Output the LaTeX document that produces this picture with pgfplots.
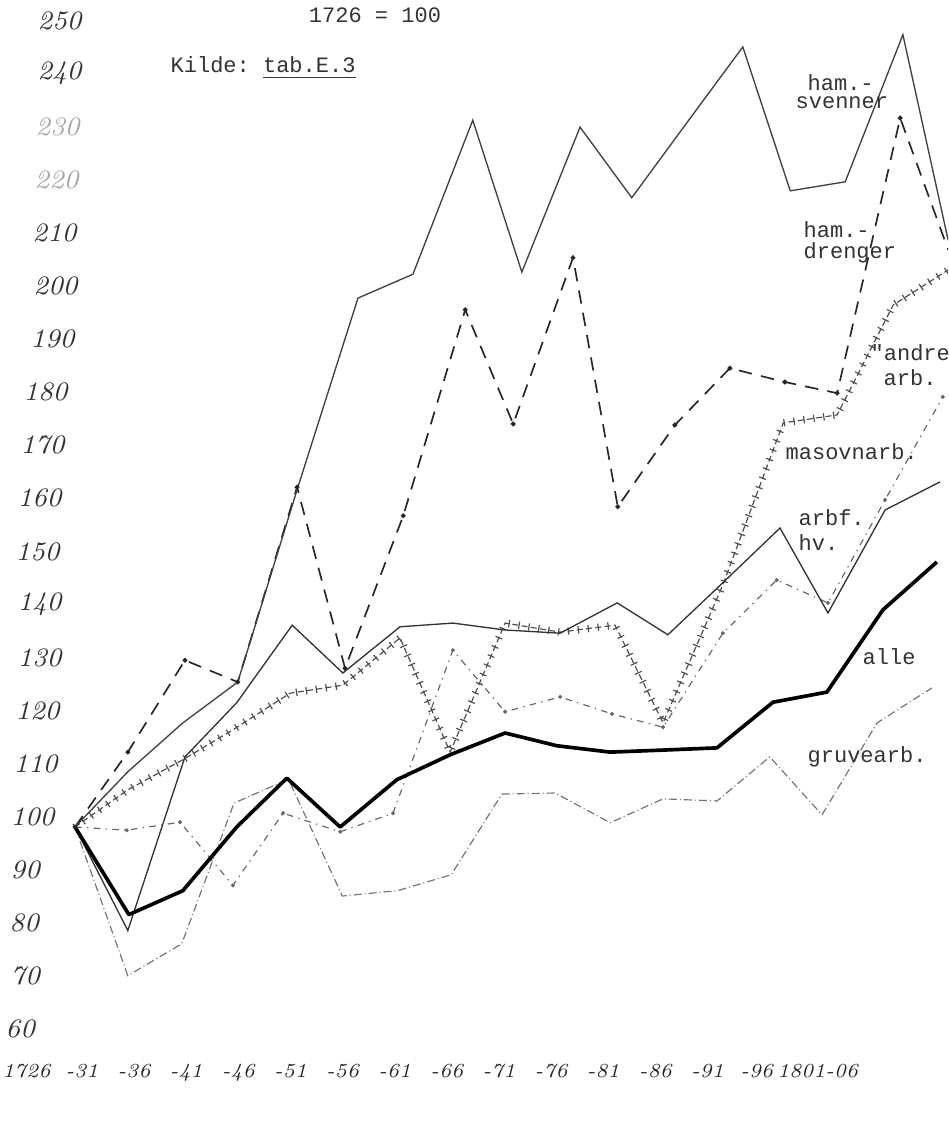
\documentclass[border=0pt]{standalone}
\usepackage{fontspec}
\setmonofont{Liberation Mono}
\usepackage{pgfplots}
\pgfplotsset{compat=1.18}
\usetikzlibrary{decorations.pathreplacing}

\newcommand{\tw}{\fontsize{6.6}{7.5}\selectfont\ttfamily\color{black!80}}

\pgfplotsset{
  alle/.style={black, line width=1.1pt, line join=round},
  svenner/.style={black!75, line width=0.4pt},
  drenger/.style={black!85, line width=0.5pt, dash pattern=on 4pt off 2.8pt,
    mark=*, mark size=0.45pt, mark options={solid}},
  andre/.style={black!60, line width=0.35pt, dash pattern=on 2pt off 1.6pt on 0.4pt off 1.6pt,
    mark=*, mark size=0.4pt, mark options={solid}},
  masovn/.style={black!70, line width=0.35pt, dash pattern=on 1.8pt off 1pt,
    postaction={decorate, draw, solid, decoration={ticks, segment length=3pt, amplitude=1.1pt}}},
  arbf/.style={black!80, line width=0.4pt},
  gruve/.style={black!55, line width=0.35pt, dash pattern=on 2.4pt off 0.9pt on 0.3pt off 0.9pt},
}

\begin{document}
\begin{tikzpicture}
\useasboundingbox (0,0) rectangle (284.4pt,344.4pt);
\clip (0,0) rectangle (284.4pt,344.4pt);
\begin{axis}[
  scale only axis, width=284.4pt, height=344.4pt,
  xmin=-1.3915, xmax=16.197, ymin=39.55, ymax=255.74,
  axis line style={draw=none}, tick style={draw=none},
  ytick={60,70,...,250},
  yticklabels={\hspace*{1.5pt}60, \hspace*{3pt}70, \hspace*{2.7pt}80, \hspace*{3pt}90,
    \hspace*{3pt}100, \hspace*{3.9pt}110, \hspace*{4.5pt}120, \hspace*{5.1pt}130,
    \hspace*{5.1pt}140, \hspace*{4.5pt}150, \hspace*{5.1pt}160, \hspace*{6pt}170,
    \hspace*{6.9pt}180, \hspace*{9pt}190, \hspace*{9.9pt}200, \hspace*{9.6pt}210,
    \hspace*{10.2pt}\textcolor{black!35}{220}, \hspace*{10.5pt}\textcolor{black!35}{230},
    \hspace*{11.1pt}240, \hspace*{11.1pt}250},
  yticklabel style={anchor=west, inner sep=0pt, yshift=3pt,
    font=\fontsize{8}{9}\selectfont\itshape, text=black!80},
  xtick={-0.9,0.132,1.099,2.067,3.034,4.001,4.968,5.935,6.903,7.870,8.837,9.804,10.771,11.739,12.65,13.78},
  xticklabels={1726,-31,-36,-41,-46,-51,-56,-61,-66,-71,-76,-81,-86,-91,-96,1801-06},
  xticklabel style={anchor=base, yshift=21pt,
    font=\fontsize{6}{7}\selectfont\itshape, text=black!85},
]
% gruvearb.
\addplot[gruve] coordinates {(0,100) (0.98,72) (1.98,78) (2.95,104.5) (3.96,109) (4.96,87)
  (5.98,88) (6.98,91) (7.92,106.2) (8.91,106.4) (9.93,100.8) (10.91,105.3) (11.91,104.9)
  (12.89,113.2) (13.86,102.3) (14.88,119.6) (15.9,126.2)};
% "andre arb.
\addplot[andre] coordinates {(0,100) (0.96,99.4) (1.95,100.9) (2.93,89) (3.86,102.6) (4.92,99.1)
  (5.9,102.6) (7.01,133.3) (7.98,121.7) (9.0,124.5) (9.96,121.3) (10.91,118.8) (12.02,136.5)
  (13.02,146.5) (13.97,142.2) (15.03,161.6) (16.1,181.0)};
% masovnarb.
\addplot[masovn] coordinates {(0,100) (0.98,107.0) (1.99,112.6) (2.93,118.3) (3.99,125.2)
  (4.97,126.7) (6.03,135.6) (6.96,114.1) (7.98,138.4) (9.0,136.7) (10.02,138.0) (10.91,119.6)
  (12.02,145.6) (13.14,176.1) (14.14,177.6) (15.18,198.3) (16.2,204.9)};
% ham.-drenger
\addplot[drenger] coordinates {(0,100) (0.98,114.1) (2.04,131.4) (3.02,127.3) (4.12,164.0)
  (5.01,129.9) (6.09,158.6) (7.24,197.4) (8.13,175.9) (9.24,207.2) (10.07,160.3) (11.13,175.7)
  (12.15,186.4) (13.17,183.8) (14.14,181.7) (15.31,233.5) (16.2,208.7)};
% arbf. hv.
\addplot[arbf] coordinates {(0,100) (0.98,80.5) (2.04,113.2) (3.0,123.4) (4.03,138.0) (4.97,129.0)
  (6.03,137.7) (7.01,138.4) (7.98,137.1) (9.0,136.5) (10.06,142.2) (11.0,136.2) (12.02,146.0)
  (13.08,156.3) (13.97,140.3) (15.03,159.7) (16.05,165.0)};
% ham.-svenner
\addplot[svenner] coordinates {(0,100) (0.98,110.4) (2.0,119.6) (3.02,127.3) (4.12,163.5)
  (5.25,199.6) (6.27,204.1) (7.38,233.1) (8.29,204.5) (9.37,231.8) (10.33,218.5) (11.35,232.6)
  (12.39,246.9) (13.27,219.8) (14.29,221.5) (15.36,249.2) (16.2,210.5)};
% alle
\addplot[alle] coordinates {(0,100) (1,83.5) (2,88) (3,100) (3.93,109.2) (4.92,100) (5.97,108.9)
  (6.96,113.6) (7.98,117.7) (8.94,115.3) (9.93,114.1) (10.95,114.5) (11.91,114.9) (12.95,123.5)
  (13.95,125.4) (14.99,140.9) (15.99,149.9)};
\end{axis}

\node[anchor=center, inner sep=0pt, font=\tw] at (112.5pt,339.9pt) {1726 = 100};
\node[anchor=west, inner sep=0pt, font=\tw] at (51pt,324pt) {Kilde: \underline{tab.E.3}};
\node[anchor=west, inner sep=0pt, font=\tw] at (242.1pt,319.5pt) {ham.-};
\node[anchor=west, inner sep=0pt, font=\tw] at (238.5pt,313.5pt) {svenner};
\node[anchor=west, inner sep=0pt, font=\tw] at (240.9pt,275.4pt) {ham.-};
\node[anchor=west, inner sep=0pt, font=\tw] at (240.9pt,268.5pt) {drenger};
\node[anchor=west, inner sep=0pt, font=\tw] at (261pt,238.5pt) {"andre};
\node[anchor=west, inner sep=0pt, font=\tw] at (264.9pt,231pt) {arb.};
\node[anchor=west, inner sep=0pt, font=\tw] at (235.5pt,208.8pt) {masovnarb.};
\node[anchor=west, inner sep=0pt, font=\tw] at (239.4pt,189pt) {arbf.};
\node[anchor=west, inner sep=0pt, font=\tw] at (239.4pt,181.5pt) {hv.};
\node[anchor=west, inner sep=0pt, font=\tw] at (258.6pt,147.3pt) {alle};
\node[anchor=west, inner sep=0pt, font=\tw] at (242.1pt,117.3pt) {gruvearb.};
\end{tikzpicture}
\end{document}
